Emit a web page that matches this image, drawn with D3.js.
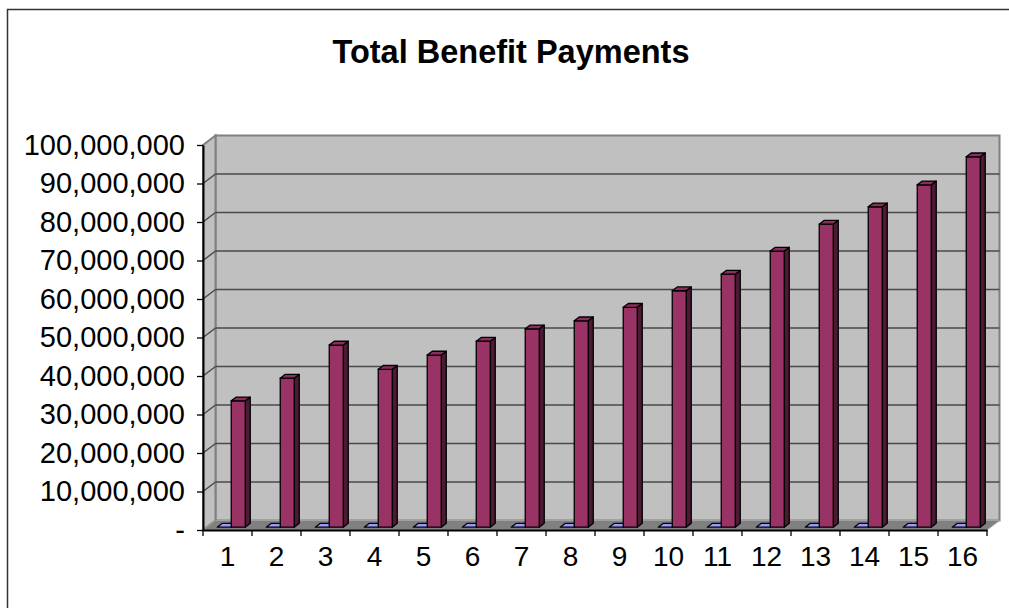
<!DOCTYPE html>
<html>
<head>
<meta charset="utf-8">
<script src="https://cdn.jsdelivr.net/npm/d3@7"></script>
<style>
  html, body { margin: 0; padding: 0; background: #ffffff; }
  svg { display: block; }
  text { font-family: "Liberation Sans", Arial, sans-serif; fill: #000; }
</style>
</head>
<body>
<svg id="chart" width="1009" height="608"></svg>
<script>
const chartTitle = "Total Benefit Payments";
const categories = ["1","2","3","4","5","6","7","8","9","10","11","12","13","14","15","16"];
const seriesNames = ["Series A", "Series B"];
const seriesA = [0,0,0,0,0,0,0,0,0,0,0,0,0,0,0,0];
const seriesB = [32.8e6, 38.7e6, 47.3e6, 41.0e6, 44.7e6, 48.3e6, 51.5e6, 53.6e6,
                 57.1e6, 61.4e6, 65.7e6, 71.7e6, 78.7e6, 83.2e6, 88.9e6, 96.2e6];
const yTicks = [0,10e6,20e6,30e6,40e6,50e6,60e6,70e6,80e6,90e6,100e6];

const seriesValues = [seriesA, seriesB];
const seriesColors = [
  {front: "#9999FF", side: "#4d4d80", top: "#8a8ae6"},
  {front: "#993366", side: "#4d1a33", top: "#8a2e5c"}
];

const svg = d3.select("#chart");

// geometry
const X0 = 203, X1 = 987, Y0 = 530, Y1 = 145;
const DX = 12.5, DY = -9.5;        // wall depth
const F0 = 0.3, F1 = 0.7;          // bar depth fractions

const x = d3.scaleBand().domain(categories).range([X0, X1]).padding(0);
const inner = d3.scaleBand().domain(seriesNames).range([0, x.bandwidth()])
  .paddingInner(0).paddingOuter(0.75);
const y = d3.scaleLinear().domain([0, 100e6]).range([Y0, Y1]);

// outer frame
svg.append("rect").attr("x", 7.5).attr("y", 9.5).attr("width", 1100).attr("height", 700)
  .attr("fill", "none").attr("stroke", "#333").attr("stroke-width", 1.5);

// title
svg.append("text").attr("x", 511).attr("y", 63).attr("text-anchor", "middle")
  .style("font-size", "32.5px").style("font-weight", "bold").text(chartTitle);

// back wall
svg.append("rect")
  .attr("x", X0 + DX).attr("y", Y1 + DY)
  .attr("width", X1 - X0).attr("height", Y0 - Y1)
  .attr("fill", "#C0C0C0").attr("stroke", "#808080").attr("stroke-width", 2);
// left wall
svg.append("polygon")
  .attr("points", [[X0, Y1], [X0 + DX, Y1 + DY], [X0 + DX, Y0 + DY], [X0, Y0]].map(p => p.join(",")).join(" "))
  .attr("fill", "#C0C0C0").attr("stroke", "#808080").attr("stroke-width", 2);

// gridlines
const grid = yTicks.filter(v => v > 0 && v < 100e6);
svg.append("g").selectAll("line.gb").data(grid).join("line")
  .attr("x1", X0 + DX).attr("x2", X1 + DX)
  .attr("y1", d => y(d) + DY).attr("y2", d => y(d) + DY)
  .attr("stroke", "#4a4a4a").attr("stroke-width", 1.5);
svg.append("g").selectAll("line.gl").data(grid).join("line")
  .attr("x1", X0).attr("x2", X0 + DX)
  .attr("y1", d => y(d)).attr("y2", d => y(d) + DY)
  .attr("stroke", "#4a4a4a").attr("stroke-width", 1.5);

// floor
svg.append("polygon")
  .attr("points", [[X0, Y0], [X0 + DX, Y0 + DY], [X1 + DX, Y0 + DY], [X1, Y0]].map(p => p.join(",")).join(" "))
  .attr("fill", "#808080").attr("stroke", "#a0a0a0").attr("stroke-width", 1);

// bars
const barData = [];
categories.forEach((c, i) => {
  seriesNames.forEach((s, j) => {
    barData.push({cat: c, series: s, j: j, value: seriesValues[j][i]});
  });
});
const w = inner.bandwidth();
const bdx = (F1 - F0) * DX, bdy = (F1 - F0) * DY;
const bars = svg.append("g").selectAll("g").data(barData).join("g");
bars.each(function(d) {
  const g = d3.select(this);
  const xl = x(d.cat) + inner(d.series) + F0 * DX;
  const yt = y(d.value) + F0 * DY;
  const yb = y(0) + F0 * DY;
  const col = seriesColors[d.j];
  g.append("polygon")
    .attr("points", [[xl + w, yt], [xl + w + bdx, yt + bdy], [xl + w + bdx, yb + bdy], [xl + w, yb]].map(p => p.join(",")).join(" "))
    .attr("fill", col.side).attr("stroke", "#000").attr("stroke-width", 1.3).attr("stroke-linejoin", "round");
  g.append("rect").attr("x", xl).attr("y", yt).attr("width", w).attr("height", yb - yt)
    .attr("fill", col.front).attr("stroke", "#000").attr("stroke-width", 1.3);
  g.append("polygon")
    .attr("points", [[xl, yt], [xl + bdx, yt + bdy], [xl + w + bdx, yt + bdy], [xl + w, yt]].map(p => p.join(",")).join(" "))
    .attr("fill", d.value === 0 ? col.front : col.top).attr("stroke", "#000").attr("stroke-width", 1.3).attr("stroke-linejoin", "round");
});

// y axis
const yAxis = d3.axisLeft(y).tickValues(yTicks)
  .tickFormat(v => v === 0 ? "-" : d3.format(",")(v))
  .tickSize(6).tickSizeOuter(0).tickPadding(12);
const ya = svg.append("g").attr("transform", `translate(${X0},0)`).call(yAxis);
ya.select(".domain").attr("stroke", "#000").attr("stroke-width", 2);
ya.selectAll(".tick line").attr("stroke", "#000").attr("stroke-width", 1.3);
ya.selectAll(".tick text").style("font-size", "29px").attr("fill", "#000")
  .style("font-family", "'Liberation Sans', Arial, sans-serif");

// x axis
const xAxis = d3.axisBottom(x).tickSize(0).tickSizeOuter(0).tickPadding(16);
const xa = svg.append("g").attr("transform", `translate(0,${Y0})`).call(xAxis);
xa.select(".domain").attr("stroke", "#000").attr("stroke-width", 2);
xa.selectAll(".tick text").style("font-size", "28px").attr("fill", "#000")
  .style("font-family", "'Liberation Sans', Arial, sans-serif");
const bounds = categories.map(c => x(c)).concat([X1]);
xa.append("g").selectAll("line").data(bounds).join("line")
  .attr("x1", d => d).attr("x2", d => d).attr("y1", 0).attr("y2", 6)
  .attr("stroke", "#000").attr("stroke-width", 1.3);
</script>
</body>
</html>
